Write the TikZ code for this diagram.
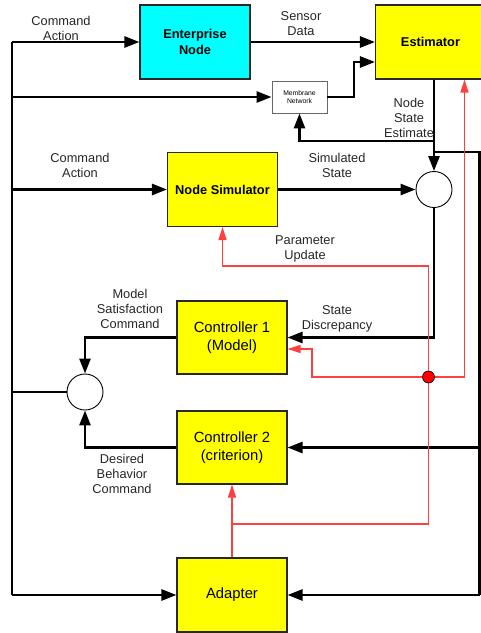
\documentclass[tikz,border=0pt]{standalone}
\usepackage{fontspec}
\setmainfont{Liberation Sans}
\usetikzlibrary{arrows.meta}
\definecolor{boxyellow}{RGB}{255,255,0}
\definecolor{boxcyan}{RGB}{0,255,255}
\definecolor{redline}{RGB}{255,64,64}
\definecolor{boxborder}{RGB}{40,40,40}
\begin{document}
\begin{tikzpicture}[x=1pt,y=-1pt,
  box/.style={draw=boxborder,line width=1.1pt,minimum width=#1,minimum height=74pt,inner sep=0pt,align=center},
  box/.default=110pt,
  ybox/.style={box,fill=boxyellow},
  bigtxt/.style={font=\fontsize{14.8}{18}\selectfont},
  boldtxt/.style={font=\fontsize{12.8}{16}\selectfont\bfseries},
  lbl/.style={align=center,inner sep=0pt,font=\fontsize{12.8}{15}\selectfont,text=black!85},
  sumcirc/.style={circle,draw=black,line width=0.9pt,fill=white,minimum size=36pt,inner sep=0pt},
  bl/.style={line width=2.6pt,black},
  bla/.style={bl,-{Triangle[length=15pt,width=11pt]}},
  rd/.style={line width=1.3pt,redline},
  rda/.style={rd,-{Triangle[length=13pt,width=8pt]}}
]
\useasboundingbox (0,0) rectangle (481,633);

% nodes
\node[box,fill=boxcyan,boldtxt] (ent) at (195,42) {Enterprise\\Node};
\node[ybox=103pt,boldtxt] (est) at (430.5,42) {Estimator};
\node[draw=boxborder!70,line width=0.8pt,fill=white,minimum width=55pt,minimum height=32pt,inner sep=0pt,align=center,font=\fontsize{6.8}{8.2}\selectfont] (mem) at (299.5,97) {Membrane\\Network};
\node[ybox=111pt,boldtxt] (sim) at (222.5,189.5) {Node Simulator};
\node[sumcirc] (c1) at (434,189.5) {};
\node[ybox,bigtxt,minimum height=73pt] (ctl1) at (232,337.5) {Controller 1\\(Model)};
\node[ybox,bigtxt,minimum height=73pt] (ctl2) at (232,447.5) {Controller 2\\(criterion)};
\node[ybox,bigtxt] (ad) at (232,595) {Adapter};
\node[sumcirc] (c2) at (85,392) {};

% coordinates
\coordinate (LT) at (12,42);
\coordinate (LB) at (12,595);
\coordinate (RT) at (479.5,152);
\coordinate (RB) at (479.5,595);
\coordinate (mj) at (354,62);
\coordinate (nse) at (434,141);
\coordinate (rj) at (232,524);
\coordinate (rt) at (428.5,266);
\coordinate (rc) at (312,349);

% black connectors
\draw[bl] (LT) -- (LB);
\draw[bla] (LT) -- (ent.west);
\draw[bla] (LT |- mem.west) -- (mem.west);
\draw[bla] (LT |- sim.west) -- (sim.west);
\draw[bl] (c2.west) -- (LT |- c2.west);
\draw[bla] (LB) -- (ad.west);

\draw[bla] (ent.east) -- (est.west |- ent.east);
\draw[bla] (mem.east) -| (mj) -- (est.west |- mj);
\draw[bla] (est.south -| c1.north) -- (c1.north);
\draw[bla] (nse) -| (mem.south);
\draw[bl] (c1.north |- RT) -- (RT) -- (RB);
\draw[bla] (RT |- ctl2.east) -- (ctl2.east);
\draw[bla] (RB) -- (ad.east);

\draw[bla] (sim.east) -- (c1.west);
\draw[bla] (c1.south) |- (ctl1.east);
\draw[bla] (ctl1.west) -| (c2.north);
\draw[bla] (ctl2.west) -| (c2.south);

% red connectors
\draw[rda] (ad.north) -- (ctl2.south);
\draw[rda] (rj) -| (rt) -| (sim.south);
\node[circle,minimum size=12pt,inner sep=0pt] (dot) at (428.5,377) {};
\draw[rda] (dot.east) -| ([xshift=34pt]est.south);
\draw[rda] (dot.west) -| (rc) -- (ctl1.east |- rc);
\node[circle,draw=black,line width=0.6pt,fill=red,minimum size=12pt,inner sep=0pt] (dotfill) at (dot) {};

% labels
\node[lbl] (l1) at (61,28) {Command\\Action};
\node[lbl] (l2) at (301,23.5) {Sensor\\Data};
\node[lbl] (l3) at (409,118) {Node\\State\\Estimate};
\node[lbl] (l4) at (80,165.5) {Command\\Action};
\node[lbl] (l5) at (337,165.5) {Simulated\\State};
\node[lbl] (l6) at (305,248.5) {Parameter\\Update};
\node[lbl] (l7) at (130,309) {Model\\Satisfaction\\Command};
\node[lbl] (l8) at (337,318.5) {State\\Discrepancy};
\node[lbl] (l9) at (122,474) {Desired\\Behavior\\Command};
\end{tikzpicture}
\end{document}
